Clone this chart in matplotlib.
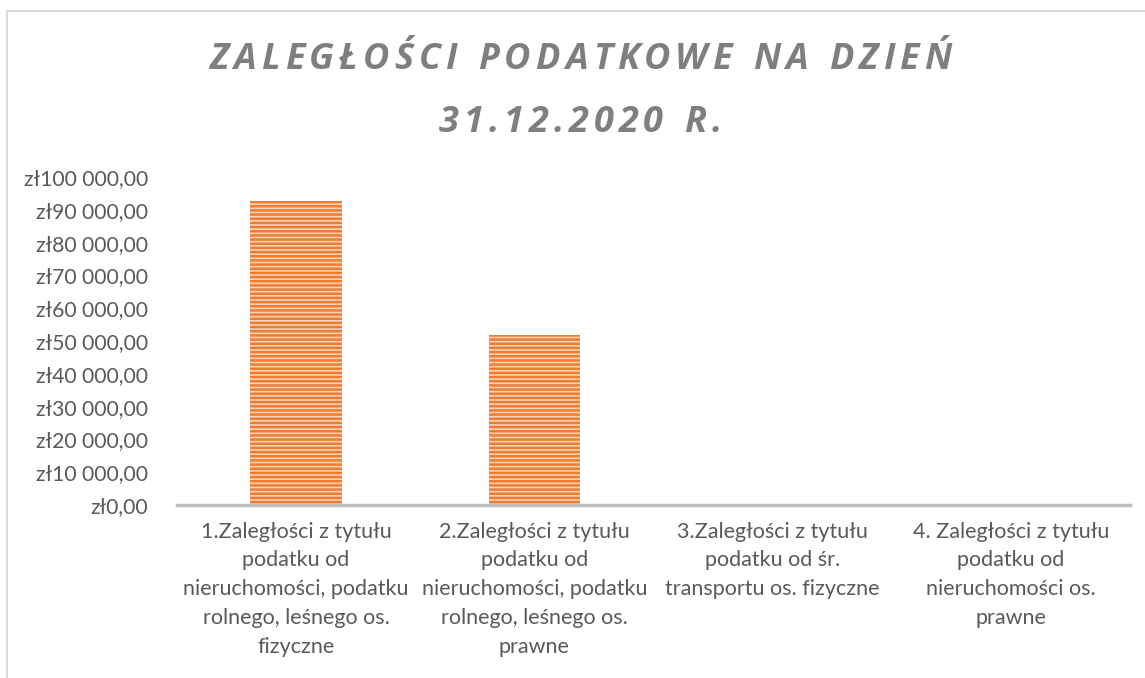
import matplotlib
matplotlib.use("Agg")
import matplotlib.pyplot as plt
from matplotlib.ticker import FuncFormatter, MultipleLocator
from matplotlib.patches import Rectangle

# data
categories = [
    "1.Zaległości z tytułu\npodatku od\nnieruchomości, podatku\nrolnego, leśnego os.\nfizyczne",
    "2.Zaległości z tytułu\npodatku od\nnieruchomości, podatku\nrolnego, leśnego os.\nprawne",
    "3.Zaległości z tytułu\npodatku od śr.\ntransportu os. fizyczne",
    "4. Zaległości z tytułu\npodatku od\nnieruchomości os.\nprawne",
]
values = [92700, 51800, 0, 0]
title_lines = ["ZALEGŁOŚCI PODATKOWE NA DZIEŃ", "31.12.2020 R."]

plt.rcParams["font.family"] = ["Lato", "DejaVu Sans"]
plt.rcParams["hatch.linewidth"] = 1.8

fig = plt.figure(figsize=(11.45, 6.78), dpi=100)
W, H = 1145, 678

# chart area frame
fig.patches.append(Rectangle((7 / W, -0.1), 1.2, 1 - 11 / H + 0.1,
                             transform=fig.transFigure, fill=False,
                             edgecolor="#D9D9D9", linewidth=1.5))

ax = fig.add_axes([177 / W, 1 - 505 / H, (1130 - 177) / W, (505 - 177) / H])
x = range(len(values))
ax.bar(x, values, width=0.385, color="#FAD3B8", edgecolor="#EE7D33",
       linewidth=0, hatch="----")

ax.set_xlim(-0.5, len(values) - 0.5)
ax.set_ylim(0, 100000)
ax.yaxis.set_major_locator(MultipleLocator(10000))


def zl(v, pos):
    s = f"{int(v):,}".replace(",", " ")
    return "zł" + s + ",00"


ax.yaxis.set_major_formatter(FuncFormatter(zl))
ax.set_xticks(list(x))
ax.set_xticklabels(categories, fontsize=15.5, color="#595959", linespacing=1.55)
ax.tick_params(axis="y", length=0, labelsize=15.2, labelcolor="#595959", pad=21)
ax.tick_params(axis="x", length=0, pad=12)
for s in ["top", "right", "left"]:
    ax.spines[s].set_visible(False)
ax.spines["bottom"].set_color("#BFBFBF")
ax.spines["bottom"].set_linewidth(2.5)

# title with letter spacing, placed char by char
fig.canvas.draw()
renderer = fig.canvas.get_renderer()
tkw = dict(fontsize=26, fontweight="bold", fontstyle="italic", color="#7F7F7F",
           family=["Open Sans", "DejaVu Sans"])
spacing = 5
for line, yc in zip(title_lines, [60, 123]):
    widths = []
    for ch in line:
        t = fig.text(0, 0, ch if ch != " " else "n", **tkw)
        w = t.get_window_extent(renderer).width
        if ch == " ":
            w *= 0.5
        widths.append(w)
        t.remove()
    total = sum(widths) + spacing * (len(line) - 1)
    xpos = 580 - total / 2
    for ch, w in zip(line, widths):
        if ch != " ":
            fig.text(xpos / W, 1 - yc / H, ch, ha="left", va="center", **tkw)
        xpos += w + spacing

fig.savefig("out.png", dpi=100)
